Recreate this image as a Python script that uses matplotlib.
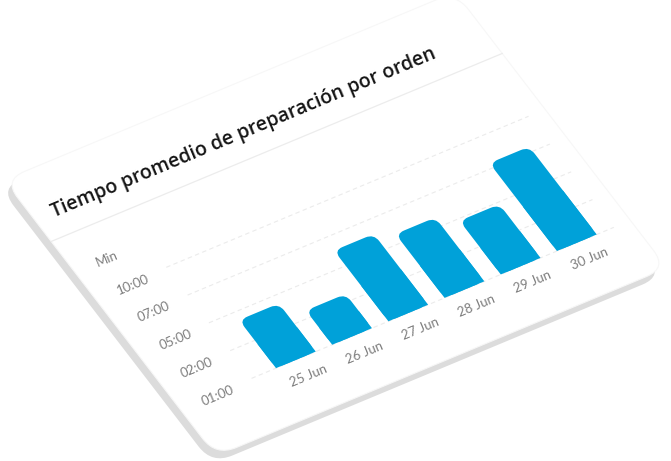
import numpy as np
import matplotlib.pyplot as plt
from matplotlib.patches import FancyBboxPatch, Rectangle
from matplotlib.transforms import Affine2D

# datos del grafico
dias = ['25 Jun', '26 Jun', '27 Jun', '28 Jun', '29 Jun', '30 Jun']
minutos = [4.2, 2.7, 6.1, 5.6, 4.8, 7.5]
ticks_min = [1, 2, 5, 7, 10]
ticks_txt = ['01:00', '02:00', '05:00', '07:00', '10:00']
titulo = 'Tiempo promedio de preparación por orden'

AZUL = '#00a1d9'
GRIS = '#7d7d7d'

# tarjeta en coordenadas propias (u a la derecha, v hacia arriba)
W, H = 488, 348
base, paso = 60, 35
x0, sep, ancho = 126, 60.8, 43

fig = plt.figure(figsize=(6.71, 4.61), dpi=100)
ax = fig.add_axes([0, 0, 1, 1])
ax.set_xlim(0, 671)
ax.set_ylim(461, 0)
ax.axis('off')

# perspectiva: tarjeta -> pixeles
m = np.array([[451 / W, -212 / H, 216],
              [-188 / W, -276 / H, 456],
              [0, 0, 1]])
tr = Affine2D(m) + ax.transData
ang = np.degrees(np.arctan2(188, 451))

# canto gris de la tarjeta (desplazado abajo a la izquierda)
sombra = FancyBboxPatch((0, 0), W, H, boxstyle='round,pad=0,rounding_size=22',
                        transform=tr + Affine2D().translate(-4, -8),
                        fc='#dcdcdc', ec='none', zorder=1)
ax.add_patch(sombra)
tarjeta = FancyBboxPatch((0, 0), W, H, boxstyle='round,pad=0,rounding_size=22',
                         transform=tr, fc='white', ec='#f7f7f7', lw=0.8, zorder=2)
ax.add_patch(tarjeta)

# titulo y separador
ax.text(19, 298, titulo, transform=tr, rotation=ang, rotation_mode='anchor',
        ha='left', va='center', fontsize=14, color='#151515',
        family='Open Sans', weight='semibold', zorder=5)
ax.plot([0, W], [270.5, 270.5], transform=tr, color='#ececec', lw=0.9, zorder=3)


def nivel(val):
    return base + paso * np.interp(val, ticks_min, np.arange(len(ticks_min)))


# rejilla y etiquetas del eje y
for k, txt in enumerate(ticks_txt):
    v = nivel(ticks_min[k])
    ax.plot([78, 470], [v, v], transform=tr, color='#ebebeb', lw=0.8,
            ls=(0, (4, 3)), zorder=3)
    ax.text(23, v - 3, txt, transform=tr, rotation=ang, rotation_mode='anchor',
            ha='left', va='center', fontsize=9.5, color=GRIS, family='Lato', zorder=5)
ax.text(23, base + paso * 5 - 3, 'Min', transform=tr, rotation=ang,
        rotation_mode='anchor', ha='left', va='center', fontsize=9.5,
        color=GRIS, family='Lato', zorder=5)

# barras: esquinas de arriba redondeadas, las de abajo rectas
r = 9
for i, (d, val) in enumerate(zip(dias, minutos)):
    xc = x0 + sep * i
    top = nivel(val)
    alto = top - base
    ax.add_patch(FancyBboxPatch((xc - ancho / 2, base), ancho, alto,
                                boxstyle=f'round,pad=0,rounding_size={r}',
                                transform=tr, fc=AZUL, ec='none', zorder=4))
    ax.add_patch(Rectangle((xc - ancho / 2, base), ancho, alto / 2,
                           transform=tr, fc=AZUL, ec='none', zorder=4))
    ax.text(xc, 40, d, transform=tr, rotation=ang, rotation_mode='anchor',
            ha='center', va='center', fontsize=9.5, color=GRIS, family='Lato', zorder=5)

fig.savefig('out.png', dpi=100, facecolor='white')
